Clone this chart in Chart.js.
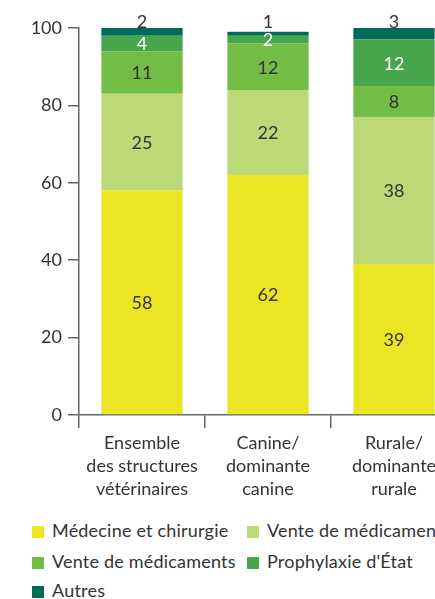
<!DOCTYPE html>
<html>
<head>
<meta charset="utf-8">
<script src="https://cdn.jsdelivr.net/npm/chart.js@4/dist/chart.umd.min.js"></script>
<style>
  html, body { margin: 0; padding: 0; background: #fff; overflow: hidden; width: 435px; height: 599px; }
  #wrap { position: relative; width: 470px; height: 599px; }
  #c { position: absolute; left: 0; top: 0; }
  .leg { position: absolute; font-family: Lato, sans-serif; font-size: 18px; color: #333; white-space: nowrap; line-height: 20px; letter-spacing: 0.2px; }
  .leg span.box { display: inline-block; width: 12px; height: 12px; margin-right: 8px; vertical-align: -1px; }
</style>
</head>
<body>
<div id="wrap">
  <canvas id="c" width="470" height="500"></canvas>
  <div id="legend"></div>
</div>
<script>
const categories = [
  ["Ensemble", "des structures", "vétérinaires"],
  ["Canine/", "dominante", "canine"],
  ["Rurale/", "dominante", "rurale"]
];
const seriesNames = ["Médecine et chirurgie", "Vente de médicaments", "Vente de médicaments", "Prophylaxie d'État", "Autres"];
const legendNames = ["Médecine et chirurgie", "Vente de médicamen", "Vente de médicaments", "Prophylaxie d'État", "Autres"];
const medecine = [58, 62, 39];
const venteMed1 = [25, 22, 38];
const venteMed2 = [11, 12, 8];
const prophylaxie = [4, 2, 12];
const autres = [2, 1, 3];
const yTicks = [0, 20, 40, 60, 80, 100];
const colors = ["#ebe624", "#bdd977", "#72bd45", "#47a64b", "#006c56"];
const labelColors = ["#333333", "#333333", "#333333", "#ffffff", "#333333"];

const seriesValues = [medecine, venteMed1, venteMed2, prophylaxie, autres];

const FONT = "Lato, sans-serif";

const labelPlugin = {
  id: "segLabels",
  afterDatasetsDraw(chart) {
    const ctx = chart.ctx;
    ctx.save();
    ctx.font = "18px " + FONT;
    ctx.textAlign = "center";
    ctx.textBaseline = "middle";
    chart.data.datasets.forEach((ds, di) => {
      const meta = chart.getDatasetMeta(di);
      meta.data.forEach((el, i) => {
        const v = ds.data[i];
        let y = (el.y + el.base) / 2;
        ctx.fillStyle = labelColors[di];
        if (di === 4) {
          y = chart.scales.y.getPixelForValue(100) - 7;
        }
        ctx.fillText(String(v), el.x, y + 1);
      });
    });
    ctx.restore();
  }
};

new Chart(document.getElementById("c"), {
  type: "bar",
  data: {
    labels: categories,
    datasets: seriesValues.map((vals, i) => ({
      label: seriesNames[i],
      data: vals,
      backgroundColor: colors[i],
      borderWidth: 0,
      barPercentage: 0.645,
      categoryPercentage: 1
    }))
  },
  options: {
    responsive: false,
    animation: false,
    layout: { padding: { top: 28, right: 13, left: 0, bottom: 0 } },
    plugins: { legend: { display: false }, tooltip: { enabled: false } },
    scales: {
      x: {
        stacked: true,
        offset: true,
        grid: { offset: true, drawOnChartArea: false, tickLength: 13, color: "#666", lineWidth: 1.5 },
        border: { display: true, color: "#666", width: 1.5 },
        ticks: { color: "#333", font: { family: FONT, size: 18, lineHeight: 1.27 }, padding: 4, maxRotation: 0, autoSkip: false },
        afterFit(scale) { scale.height = 85; }
      },
      y: {
        stacked: true,
        min: 0,
        max: 100,
        afterBuildTicks(scale) { scale.ticks = yTicks.map(v => ({ value: v })); },
        grid: { drawOnChartArea: false, tickLength: 11, color: "#666", lineWidth: 1.5 },
        border: { display: true, color: "#666", width: 1.5 },
        ticks: { color: "#333", font: { family: FONT, size: 18 }, padding: 6 },
        afterFit(scale) { scale.width = 79; }
      }
    }
  },
  plugins: [labelPlugin]
});

const legendPos = [[32, 520], [247, 520], [32, 551], [247, 551], [32, 580]];
const legend = document.getElementById("legend");
legendNames.forEach((name, i) => {
  const d = document.createElement("div");
  d.className = "leg";
  d.style.left = legendPos[i][0] + "px";
  d.style.top = legendPos[i][1] + "px";
  d.innerHTML = '<span class="box" style="background:' + colors[i] + '"></span>' + name;
  legend.appendChild(d);
});
</script>
</body>
</html>
